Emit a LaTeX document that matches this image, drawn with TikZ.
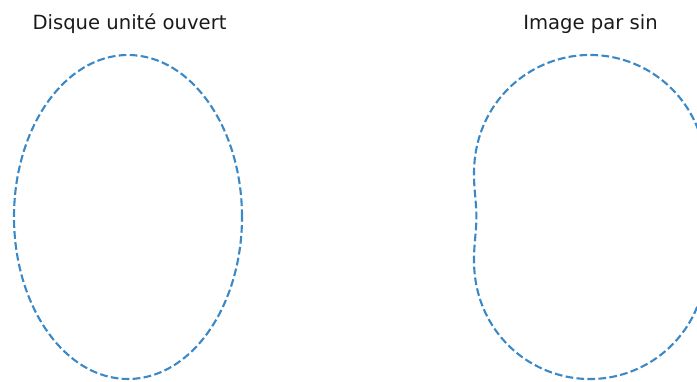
\documentclass[tikz,border=0pt]{standalone}
\usepackage{fontspec}
\setmainfont{DejaVu Sans}
\definecolor{curve}{HTML}{3A88C5}
\definecolor{titlecol}{HTML}{1A1A1A}
\tikzset{
  curveline/.style={draw=curve, line width=2.1pt, dash pattern=on 7.7pt off 3.3pt, line join=round},
  titletext/.style={anchor=base, inner sep=0pt, text=titlecol, font=\fontsize{19.6}{22}\selectfont}
}
\begin{document}
\begin{tikzpicture}[x=1pt,y=1pt]
\useasboundingbox (0,0) rectangle (697,381);
\clip (0,0) rectangle (697,381);
\node[titletext] (t1) at (129.5,351.5) {Disque unité ouvert};
\node[titletext] (t2) at (590.5,351.5) {Image par sin};
\coordinate (c1) at (128,164);
\coordinate (c2) at (590,164);
\draw[curveline] (c1) ellipse [x radius=114, y radius=162];
\draw[curveline] plot[domain=0:360, samples=400, variable=\t]
  ({590+135*sin(deg(cos(\t)))*cosh(sin(\t))}, {164+137.9*cos(deg(cos(\t)))*sinh(sin(\t))}) -- cycle;
\end{tikzpicture}
\end{document}
